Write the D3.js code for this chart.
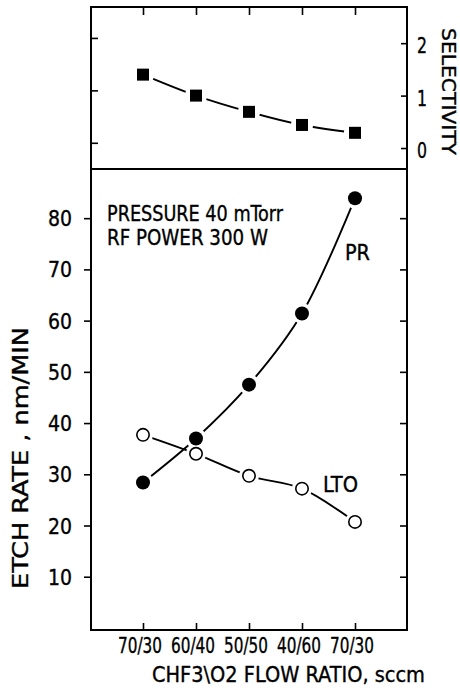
<!DOCTYPE html>
<html>
<head>
<meta charset="utf-8">
<script src="https://cdn.jsdelivr.net/npm/d3@7"></script>
<style>
  body { margin: 0; background: #fff; }
  text { font-family: "Liberation Sans Narrow", "DejaVu Sans Condensed", "Liberation Sans", sans-serif; fill: #000; stroke: #000; stroke-width: 0.35px; }
</style>
</head>
<body>
<svg id="chart" width="460" height="691"></svg>
<script>
// flow ratio categories (CHF3/O2)
var ratios = ["70/30", "60/40", "50/50", "40/60", "70/30"];
// selectivity (upper panel)
var selectivity = [1.40, 1.00, 0.69, 0.44, 0.29];
// etch rates nm/min (lower panel)
var prRate = [28.4, 37.0, 47.5, 61.4, 83.9];
var ltoRate = [37.7, 34.0, 29.7, 27.2, 20.7];
var rateTicks = [10, 20, 30, 40, 50, 60, 70, 80];
var selTicks = [0, 1, 2];
var selLeftTicks = [0.1, 1.1, 2.1];

var svg = d3.select("#chart");
var frame = {left: 91, right: 407, top: 7, mid: 169, bottom: 630};

var x = d3.scaleLinear().domain([-1, 5]).range([frame.left - 1, frame.right + 1]);
var ySel = d3.scaleLinear().domain([-0.4, 2.69]).range([frame.mid, frame.top]);
var yRate = d3.scaleLinear().domain([-0.4, 89.6]).range([frame.bottom, frame.mid]);

var idx = ratios.map(function(d, i){ return i; });

// text helper: start anchored, stretched to a given width
function label(g, px, py, str, size, len, rot){
  var t = g.append("text")
    .attr("text-anchor", "start")
    .style("font-size", size + "px")
    .text(str);
  if(rot){
    t.attr("transform", "translate(" + px + "," + py + ") rotate(" + rot + ")");
  } else {
    t.attr("x", px).attr("y", py);
  }
  if(len){
    t.attr("textLength", len).attr("lengthAdjust", "spacingAndGlyphs");
  }
  return t;
}

// frame
svg.append("rect")
  .attr("x", frame.left).attr("y", frame.top)
  .attr("width", frame.right - frame.left).attr("height", frame.bottom - frame.top)
  .attr("fill", "none").attr("stroke", "#000").attr("stroke-width", 2);
svg.append("line")
  .attr("x1", frame.left).attr("x2", frame.right)
  .attr("y1", frame.mid).attr("y2", frame.mid)
  .attr("stroke", "#000").attr("stroke-width", 2);

// upper panel axes
var selRight = d3.axisLeft(ySel).tickValues(selTicks).tickSize(6).tickFormat("");
svg.append("g").attr("transform", "translate(" + frame.right + ",0)").call(selRight);
selTicks.forEach(function(d){
  label(svg, frame.right + 10, ySel(d) + 10, String(d), 21, 10);
});

var selLeft = d3.axisRight(ySel).tickValues(selLeftTicks).tickSize(7).tickFormat("");
svg.append("g").attr("transform", "translate(" + frame.left + ",0)").call(selLeft);

var topAxis = d3.axisBottom(x).tickValues(idx).tickSize(8).tickFormat("");
svg.append("g").attr("transform", "translate(0," + frame.top + ")").call(topAxis);

// lower panel axes
var rateLeft = d3.axisLeft(yRate).tickValues(rateTicks).tickSize(7).tickFormat("");
svg.append("g").attr("transform", "translate(" + frame.left + ",0)").call(rateLeft);
rateTicks.forEach(function(d){
  label(svg, 48, yRate(d) + 8, String(d), 22, 24);
});

var rateRight = d3.axisLeft(yRate).tickValues(rateTicks).tickSize(7).tickFormat("");
svg.append("g").attr("transform", "translate(" + frame.right + ",0)").call(rateRight);

var bottomAxis = d3.axisTop(x).tickValues(idx).tickSize(7).tickFormat("");
svg.append("g").attr("transform", "translate(0," + frame.bottom + ")").call(bottomAxis);
idx.forEach(function(i){
  label(svg, x(i) - 25, 653, ratios[i], 21, 44);
});

svg.selectAll(".domain").remove();
svg.selectAll(".tick line").attr("stroke", "#000").attr("stroke-width", 1.6);

// axis titles
label(svg, 152, 682, "CHF3\\O2  FLOW RATIO, sccm", 22, 273);
label(svg, 28, 589, "ETCH RATE ,  nm/MIN", 21, 262, -90);
label(svg, 442, 28, "SELECTIVITY", 19, 127, 90);

// annotations
label(svg, 107, 221, "PRESSURE 40 mTorr", 22, 176);
label(svg, 107, 245, "RF POWER 300 W", 22, 161);
label(svg, 345, 260, "PR", 21, 25);
label(svg, 323, 492, "LTO", 21, 35);

// curves
var selLine = d3.line().curve(d3.curveCatmullRom)
  .x(function(d, i){ return x(i); }).y(function(d){ return ySel(d); });
var rateLine = d3.line().curve(d3.curveCatmullRom)
  .x(function(d, i){ return x(i); }).y(function(d){ return yRate(d); });

[selLine(selectivity), rateLine(prRate), rateLine(ltoRate)].forEach(function(p){
  svg.append("path").attr("d", p)
    .attr("fill", "none").attr("stroke", "#000").attr("stroke-width", 1.9);
});

// white gaps round markers
var halo = svg.append("g");
halo.selectAll(".hs").data(selectivity).enter().append("circle")
  .attr("cx", function(d, i){ return x(i); }).attr("cy", function(d){ return ySel(d); })
  .attr("r", 11).attr("fill", "#fff");
halo.selectAll(".hp").data(prRate).enter().append("circle")
  .attr("cx", function(d, i){ return x(i); }).attr("cy", function(d){ return yRate(d); })
  .attr("r", 10.5).attr("fill", "#fff");
halo.selectAll(".hl").data(ltoRate).enter().append("circle")
  .attr("cx", function(d, i){ return x(i); }).attr("cy", function(d){ return yRate(d); })
  .attr("r", 10).attr("fill", "#fff");

// markers
svg.append("g").selectAll("rect").data(selectivity).enter().append("rect")
  .attr("x", function(d, i){ return x(i) - 6; }).attr("y", function(d){ return ySel(d) - 6; })
  .attr("width", 12).attr("height", 12).attr("fill", "#000");
svg.append("g").selectAll("circle").data(prRate).enter().append("circle")
  .attr("cx", function(d, i){ return x(i); }).attr("cy", function(d){ return yRate(d); })
  .attr("r", 7).attr("fill", "#000");
svg.append("g").selectAll("circle").data(ltoRate).enter().append("circle")
  .attr("cx", function(d, i){ return x(i); }).attr("cy", function(d){ return yRate(d); })
  .attr("r", 6.2).attr("fill", "#fff").attr("stroke", "#000").attr("stroke-width", 1.6);
</script>
</body>
</html>
